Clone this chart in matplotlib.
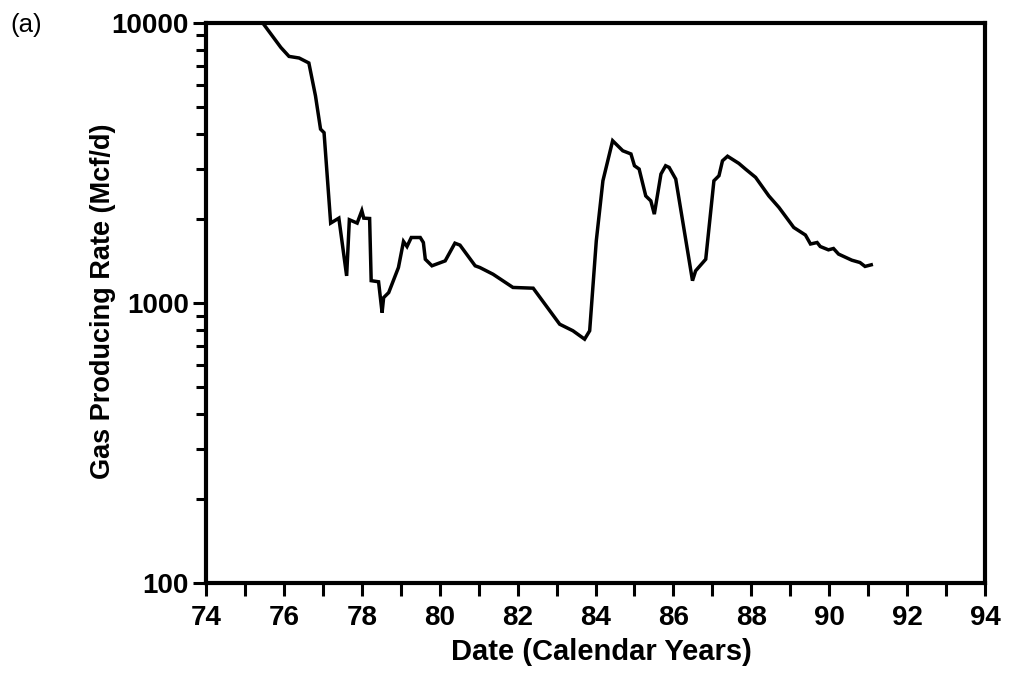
#!/usr/bin/env python3
"""Gas producing rate history, semi-log plot (figure a)."""

import matplotlib

matplotlib.use("Agg")
import matplotlib.pyplot as plt
from matplotlib.ticker import FixedLocator, LogLocator, MultipleLocator, NullFormatter

plt.rcParams["font.family"] = ["Liberation Sans", "DejaVu Sans"]

# calendar year (decimal, 19xx) and rate (Mcf/d)
years = [
    75.45, 75.92, 76.13, 76.39, 76.64, 76.81, 76.94, 77.03, 77.20, 77.41,
    77.61, 77.68, 77.88, 78.00, 78.05, 78.20, 78.24, 78.43, 78.52, 78.56,
    78.69, 78.94, 79.07, 79.16, 79.27, 79.50, 79.58, 79.63, 79.80, 80.14,
    80.39, 80.52, 80.91, 81.03, 81.37, 81.88, 82.40, 83.08, 83.42, 83.72,
    83.85, 84.02, 84.19, 84.44, 84.70, 84.91, 85.00, 85.12, 85.29, 85.42,
    85.51, 85.68, 85.80, 85.89, 86.06, 86.49, 86.57, 86.83, 87.04, 87.17,
    87.26, 87.39, 87.68, 87.85, 88.11, 88.45, 88.71, 89.09, 89.39, 89.52,
    89.69, 89.77, 89.98, 90.11, 90.24, 90.58, 90.79, 90.92, 91.08,
]
rates = [
    10000, 8160, 7580, 7480, 7180, 5480, 4170, 4050, 1926, 2006,
    1248, 1980, 1926, 2133, 2006, 2000, 1200, 1189, 923, 1044,
    1088, 1337, 1656, 1589, 1711, 1711, 1642, 1431, 1356, 1412,
    1633, 1607, 1356, 1337, 1265, 1135, 1128, 839, 795, 742,
    795, 1665, 2727, 3790, 3490, 3400, 3086, 3003, 2408, 2312,
    2073, 2882, 3086, 3044, 2766, 1200, 1301, 1431, 2727, 2843,
    3214, 3337, 3146, 3003, 2805, 2408, 2190, 1858, 1746, 1622,
    1642, 1589, 1546, 1563, 1493, 1420, 1393, 1349, 1367,
]

x_range = (74, 94)
y_range = (100, 10000)
y_major = [100, 1000, 10000]

fig = plt.figure(figsize=(10.09, 6.73), dpi=100, facecolor="white")
ax = fig.add_axes([0.2042, 0.1337, 0.772, 0.8326])

ax.plot(years, rates, color="black", linewidth=2.5, solid_joinstyle="miter")

ax.set_yscale("log")
ax.set_xlim(*x_range)
ax.set_ylim(*y_range)

ax.xaxis.set_major_locator(MultipleLocator(2))
ax.xaxis.set_minor_locator(MultipleLocator(1))
ax.yaxis.set_major_locator(FixedLocator(y_major))
ax.yaxis.set_major_formatter(plt.FuncFormatter(lambda v, _: f"{int(v)}"))
ax.yaxis.set_minor_locator(LogLocator(base=10, subs=range(2, 10)))
ax.yaxis.set_minor_formatter(NullFormatter())

for side in ax.spines.values():
    side.set_linewidth(3.0)

ax.tick_params(axis="both", which="both", direction="out", width=2.2, colors="black")
ax.tick_params(axis="both", which="major", length=9.5, labelsize=20)
ax.tick_params(axis="y", which="minor", length=7.5)
ax.tick_params(axis="x", which="minor", length=9.5)
ax.tick_params(axis="x", which="major", pad=6)
ax.tick_params(axis="y", which="major", pad=3)
for lab in ax.get_xticklabels() + ax.get_yticklabels():
    lab.set_fontweight("bold")

ax.set_xlabel("Date (Calendar Years)", fontsize=21, fontweight="bold")
ax.set_ylabel("Gas Producing Rate (Mcf/d)", fontsize=19.5, fontweight="bold")
ax.xaxis.set_label_coords(0.508, -0.098)
ax.yaxis.set_label_coords(-0.115, 0.5025)

fig.text(10 / 1009, 1 - 25 / 673, "(a)", fontsize=18.5, ha="left", va="center")

fig.savefig("out.png", dpi=100, facecolor="white")
